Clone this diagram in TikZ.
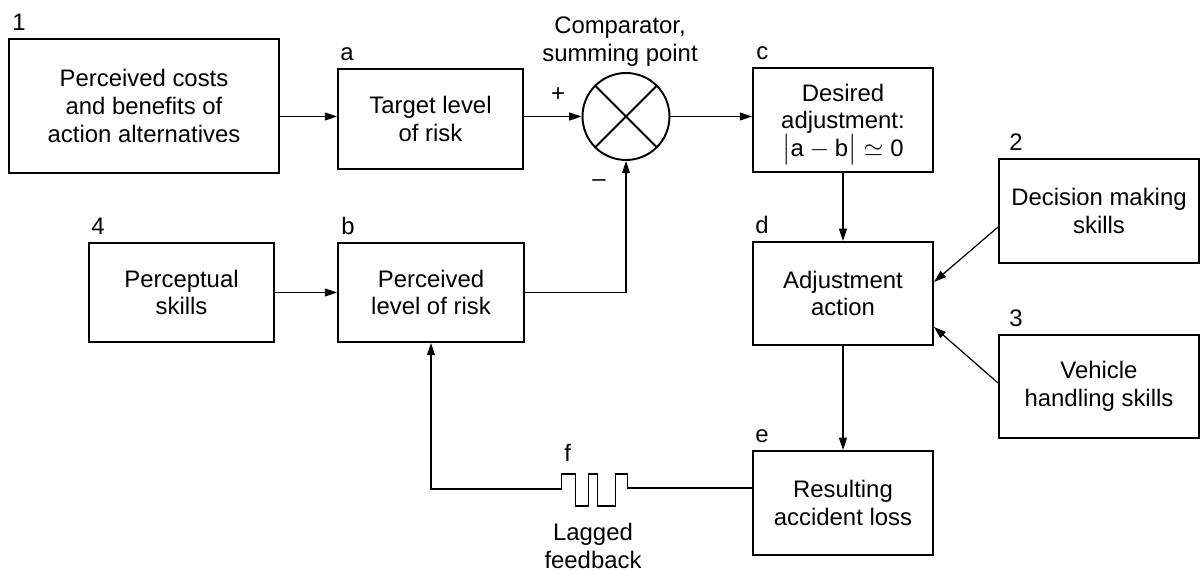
\documentclass[tikz,border=0pt]{standalone}
\usepackage{amsmath}
\usepackage{fontspec}
\setmainfont{Liberation Sans}
\usetikzlibrary{arrows.meta,positioning,calc}

\tikzset{
  box/.style={draw, line width=1.1pt, align=center, inner sep=2pt},
  tag/.style={anchor=base west, inner sep=0pt},
  conn/.style={line width=0.7pt, -{Triangle[length=7pt,width=4.5pt]}},
}

\begin{document}
\begin{tikzpicture}[x=0.02cm, y=0.02cm, font=\fontsize{13.6}{15.7}\selectfont]
\useasboundingbox (0,0) rectangle (1201,571);

\node[box, minimum width=5.4cm, minimum height=2.68cm] (costs) at (144,465) {Perceived costs\\and benefits of\\action alternatives};
\node[box, minimum width=3.7cm, minimum height=2cm] (target) at (430.5,452) {Target level\\of risk};
\node[circle, draw, line width=1.1pt, minimum size=1.74cm, inner sep=0pt] (sum) at (626,454.5) {};
\draw[line width=1.1pt] (sum.north west) -- (sum.south east) (sum.north east) -- (sum.south west);
\node[box, minimum width=3.6cm, minimum height=2.08cm] (desired) at (843,451) {Desired\\adjustment:\\\smash{$\bigl|\text{a} - \text{b}\bigr| \simeq \text{0}$}};
\node[box, minimum width=3.6cm, minimum height=2.06cm] (adjust) at (843,277.5) {Adjustment\\action};
\node[box, minimum width=3.6cm, minimum height=2.08cm] (loss) at (843,68) {Resulting\\accident loss};
\node[box, minimum width=4cm, minimum height=2.08cm] (decision) at (1099,360) {Decision making\\skills};
\node[box, minimum width=4cm, minimum height=2.06cm] (vehicle) at (1099,184.5) {Vehicle\\handling skills};
\node[box, minimum width=3.7cm, minimum height=1.98cm] (percept) at (181.5,278.5) {Perceptual\\skills};
\node[box, minimum width=3.72cm, minimum height=1.98cm] (perceived) at (431,278.5) {Perceived\\level of risk};

\node[tag] (t1) at ($(costs.north west)+(4,8)$) {1};
\node[tag] (ta) at ($(target.north west)+(3,8)$) {a};
\node[tag] (tc) at ($(desired.north west)+(4,8)$) {c};
\node[tag] (td) at ($(adjust.north west)+(3,8)$) {d};
\node[tag] (te) at ($(loss.north west)+(3,8)$) {e};
\node[tag] (t2) at ($(decision.north west)+(11,8)$) {2};
\node[tag] (t3) at ($(vehicle.north west)+(11,8)$) {3};
\node[tag] (t4) at ($(percept.north west)+(3,8)$) {4};
\node[tag] (tb) at ($(perceived.north west)+(4,8)$) {b};

\node[align=center] (comp) at (620,529.5) {Comparator,\\summing point};
\node (plus) at ($(sum.west)+(-23.5,21.5)$) {+};
\node (minus) at ($(sum.south)+(-27,-22)$) {--};

\draw[conn] (costs.east |- sum.west) -- (target.west |- sum.west);
\draw[conn] (target.east |- sum.west) -- (sum.west);
\draw[conn] (sum.east) -- (desired.west |- sum.east);
\draw[conn] (desired.south) -- (adjust.north);
\draw[conn] (adjust.south) -- (loss.north);
\draw[conn] ($(decision.west)+(0,-16)$) -- ($(adjust.east)+(0,11.5)$);
\draw[conn] ($(vehicle.west)+(0,3.5)$) -- ($(adjust.east)+(0,-33.5)$);
\draw[conn] (percept) -- (perceived);
\draw[conn] (perceived.east) -| (sum.south);

\draw[conn] ($(loss.west)+(0,15)$) -- ++(-124.5,0) coordinate (lag)
  -- ++(0,14) -- ++(-12,0) -- ++(0,-32) -- ++(-18,0) -- ++(0,32) -- ++(-9,0)
  -- ++(0,-32) -- ++(-13,0) -- ++(0,32) -- ++(-14,0) -- ++(0,-15) -| (perceived.south);
\node[tag] (tf) at (564,109) {f};
\node[align=center] (lagtxt) at (593,25) {Lagged\\feedback};
\end{tikzpicture}
\end{document}
